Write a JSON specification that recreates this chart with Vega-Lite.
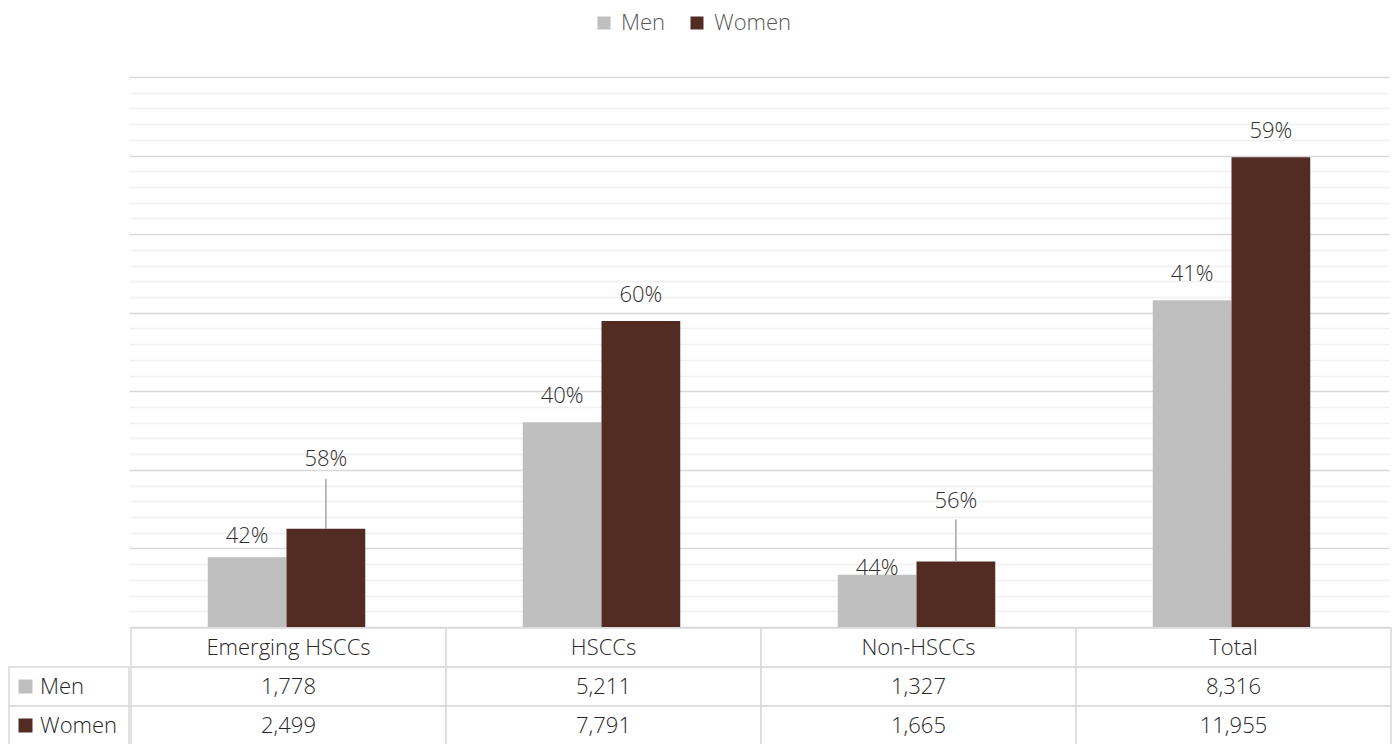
{
  "$schema": "https://vega.github.io/schema/vega-lite/v6.json",
  "background": "white",
  "padding": {"left": 8, "top": 12, "right": 0, "bottom": 0},
  "config": {"view": {"stroke": null}, "font": "Open Sans"},
  "datasets": {
    "d": [
      {"category": "Emerging HSCCs", "gender": "Men", "value": 1778, "pct": "42%"},
      {"category": "Emerging HSCCs", "gender": "Women", "value": 2499, "pct": "58%"},
      {"category": "HSCCs", "gender": "Men", "value": 5211, "pct": "40%"},
      {"category": "HSCCs", "gender": "Women", "value": 7791, "pct": "60%"},
      {"category": "Non-HSCCs", "gender": "Men", "value": 1327, "pct": "44%"},
      {"category": "Non-HSCCs", "gender": "Women", "value": 1665, "pct": "56%"},
      {"category": "Total", "gender": "Men", "value": 8316, "pct": "41%"},
      {"category": "Total", "gender": "Women", "value": 11955, "pct": "59%"}
    ]
  },
  "spacing": 0,
  "vconcat": [
    {
      "spacing": 0,
      "hconcat": [
        {
          "width": 120,
          "height": 550,
          "data": {"values": []},
          "mark": "point"
        },
        {
          "width": 1260,
          "height": 550,
          "data": {"name": "d"},
          "encoding": {
            "x": {"field": "category", "type": "nominal", "sort": ["Emerging HSCCs", "HSCCs", "Non-HSCCs", "Total"], "scale": {"paddingInner": 0.5, "paddingOuter": 0.25}, "axis": null},
            "xOffset": {"field": "gender", "type": "nominal", "sort": ["Men", "Women"], "scale": {"paddingInner": 0, "paddingOuter": 0}},
            "y": {
              "field": "value", "type": "quantitative",
              "scale": {"domain": [0, 14000], "nice": false},
              "axis": {
                "values": [0,400,800,1200,1600,2000,2400,2800,3200,3600,4000,4400,4800,5200,5600,6000,6400,6800,7200,7600,8000,8400,8800,9200,9600,10000,10400,10800,11200,11600,12000,12400,12800,13200,13600,14000],
                "grid": true, "labels": false, "ticks": false, "domain": false, "title": null,
                "minExtent": 0, "maxExtent": 0,
                "gridColor": {"condition": {"test": "datum.value % 2000 === 0", "value": "#d9d9d9"}, "value": "#f0f0f0"},
                "gridWidth": 1.5
              }
            }
          },
          "layer": [
            {
              "mark": {"type": "bar"},
              "encoding": {
                "color": {
                  "field": "gender", "type": "nominal",
                  "scale": {"domain": ["Men", "Women"], "range": ["#bfbfbf", "#522b22"]},
                  "legend": {"orient": "none", "legendX": 584, "legendY": -65, "direction": "horizontal", "title": null, "symbolType": "square", "symbolSize": 169, "symbolStrokeWidth": 0, "labelFontSize": 22, "labelFontWeight": 300, "labelColor": "#595959", "labelFont": "Open Sans", "labelOffset": 6, "columnPadding": 20}
                }
              }
            },
            {
              "transform": [{"filter": "datum.category !== 'Emerging HSCCs' && datum.category !== 'Non-HSCCs'"}],
              "mark": {"type": "text", "dy": -19, "baseline": "alphabetic", "fontSize": 22, "fontWeight": 300, "color": "#303030"},
              "encoding": {"text": {"field": "pct"}}
            },
            {
              "transform": [{"filter": "datum.category === 'Emerging HSCCs' && datum.gender === 'Men'"}],
              "mark": {"type": "text", "dy": -14, "baseline": "alphabetic", "fontSize": 22, "fontWeight": 300, "color": "#303030"},
              "encoding": {"text": {"field": "pct"}}
            },
            {
              "transform": [{"filter": "datum.category === 'Non-HSCCs' && datum.gender === 'Men'"}],
              "mark": {"type": "text", "dy": 0, "baseline": "alphabetic", "fontSize": 22, "fontWeight": 300, "color": "#303030"},
              "encoding": {"text": {"field": "pct"}}
            },
            {
              "transform": [{"filter": "datum.category === 'Emerging HSCCs' && datum.gender === 'Women'"}],
              "mark": {"type": "text", "dy": -63, "baseline": "alphabetic", "fontSize": 22, "fontWeight": 300, "color": "#303030"},
              "encoding": {"text": {"field": "pct"}}
            },
            {
              "transform": [{"filter": "datum.category === 'Non-HSCCs' && datum.gender === 'Women'"}],
              "mark": {"type": "text", "dy": -54, "baseline": "alphabetic", "fontSize": 22, "fontWeight": 300, "color": "#303030"},
              "encoding": {"text": {"field": "pct"}}
            },
            {
              "transform": [{"filter": "datum.category === 'Emerging HSCCs' && datum.gender === 'Women'"}],
              "mark": {"type": "rule", "y2Offset": -50, "color": "#a6a6a6", "strokeWidth": 1.5},
              "encoding": {"y2": {"field": "value"}}
            },
            {
              "transform": [{"filter": "datum.category === 'Non-HSCCs' && datum.gender === 'Women'"}],
              "mark": {"type": "rule", "y2Offset": -42, "color": "#a6a6a6", "strokeWidth": 1.5},
              "encoding": {"y2": {"field": "value"}}
            }
          ]
        }
      ]
    },
    {
      "spacing": 0,
      "hconcat": [
        {
          "width": 120,
          "height": 117,
          "data": {"name": "d"},
          "transform": [{"filter": "datum.category === 'Total'"}],
          "encoding": {
            "y": {"field": "gender", "type": "nominal", "scale": {"domain": ["header", "Men", "Women"], "paddingInner": 0, "paddingOuter": 0}, "axis": null}
          },
          "layer": [
            {"mark": {"type": "rect", "fill": "white", "stroke": "#d9d9d9", "strokeWidth": 1.5}},
            {
              "mark": {"type": "point", "shape": "square", "filled": true, "size": 196, "xOffset": -43.5, "opacity": 1, "strokeWidth": 0},
              "encoding": {"fill": {"field": "gender", "type": "nominal", "scale": {"domain": ["Men", "Women"], "range": ["#bfbfbf", "#522b22"]}, "legend": null}}
            },
            {
              "mark": {"type": "text", "align": "left", "dx": -29, "fontSize": 22, "fontWeight": 300, "color": "#262626"},
              "encoding": {"text": {"field": "gender"}}
            }
          ]
        },
        {
          "width": 1260,
          "height": 117,
          "data": {"name": "d"},
          "encoding": {
            "x": {"field": "category", "type": "nominal", "sort": ["Emerging HSCCs", "HSCCs", "Non-HSCCs", "Total"], "scale": {"paddingInner": 0, "paddingOuter": 0}, "axis": null}
          },
          "layer": [
            {
              "mark": {"type": "rect", "fill": "white", "stroke": "#d9d9d9", "strokeWidth": 1.5},
              "encoding": {"y": {"field": "gender", "type": "nominal", "scale": {"domain": ["header", "Men", "Women"], "paddingInner": 0, "paddingOuter": 0}, "axis": null}}
            },
            {
              "transform": [{"filter": "datum.gender === 'Men'"}],
              "mark": {"type": "rect", "fill": "white", "stroke": "#d9d9d9", "strokeWidth": 1.5},
              "encoding": {"y": {"datum": "header", "type": "nominal", "scale": {"domain": ["header", "Men", "Women"], "paddingInner": 0, "paddingOuter": 0}, "axis": null}}
            },
            {
              "mark": {"type": "text", "fontSize": 22, "fontWeight": 300, "color": "#262626"},
              "encoding": {
                "y": {"field": "gender", "type": "nominal", "scale": {"domain": ["header", "Men", "Women"], "paddingInner": 0, "paddingOuter": 0}, "axis": null},
                "text": {"field": "value", "type": "quantitative", "format": ","}
              }
            },
            {
              "transform": [{"filter": "datum.gender === 'Men'"}],
              "mark": {"type": "text", "fontSize": 22, "fontWeight": 300, "color": "#262626"},
              "encoding": {
                "y": {"datum": "header", "type": "nominal", "scale": {"domain": ["header", "Men", "Women"], "paddingInner": 0, "paddingOuter": 0}, "axis": null},
                "text": {"field": "category"}
              }
            }
          ]
        }
      ]
    }
  ]
}
